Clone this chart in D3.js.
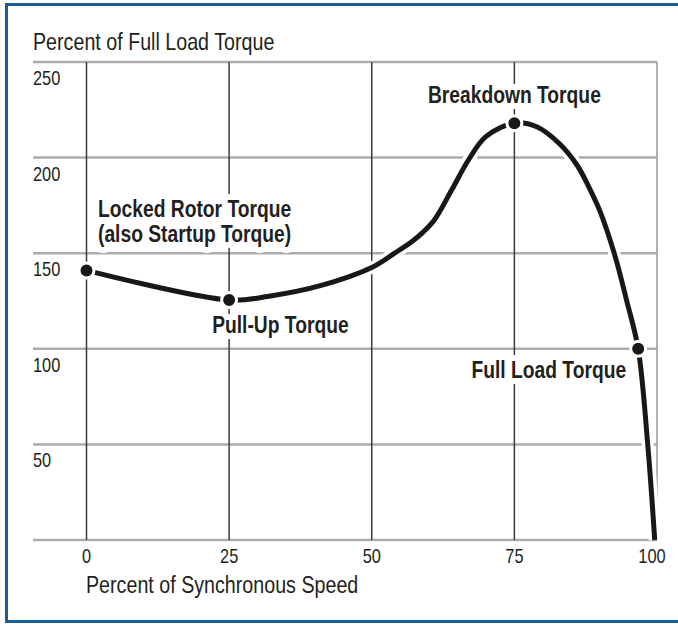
<!DOCTYPE html>
<html>
<head>
<meta charset="utf-8">
<script src="https://cdn.jsdelivr.net/npm/d3@7"></script>
<style>
  body { margin: 0; background: #fff; }
  svg text { font-family: "Liberation Sans", Arial, sans-serif; fill: #231f20; }
</style>
</head>
<body>
<div id="chart"></div>
<script>
// torque-speed curve
const speed  = [0, 25, 32, 41, 50, 54, 57, 59, 61, 64, 67, 70, 75, 79, 83, 86, 88, 90, 92.6, 94.7, 96.7, 98.4, 99.6];
const torque = [141, 125.5, 127.5, 133, 142.5, 150, 156, 161, 167.5, 183, 199, 211, 218, 216, 207, 196, 185, 172, 149, 125, 100, 49, 0];

const markSpeed  = [0, 25, 75, 96.7];
const markTorque = [141, 125.5, 218, 100];
const markLabels = [["Locked Rotor Torque", "(also Startup Torque)"], ["Pull-Up Torque"], ["Breakdown Torque"], ["Full Load Torque"]];

const xTicks = [0, 25, 50, 75, 100];
const yTicks = [50, 100, 150, 200, 250];

const width = 678, height = 624;
const narrow = 0.82;   // horizontal squeeze to mimic a condensed face

let svg = d3.select("#chart")
  .append("svg")
    .attr("width", width)
    .attr("height", height);

// blue frame (right edge is cropped in the original)
svg.append("path")
  .attr("d", "M" + (width + 5) + ",4.5 H6.5 V621.5 H" + (width + 5))
  .attr("fill", "none")
  .attr("stroke", "#1b5c97")
  .attr("stroke-width", 3);

let x = d3.scaleLinear().domain([0, 100]).range([86.5, 657]);
let y = d3.scaleLinear().domain([0, 250]).range([540, 62]);
const gridLeft = 33;

function place(px, py) {
  return "translate(" + px + "," + py + ") scale(" + narrow + ",1)";
}

// horizontal grid
svg.append("g")
  .selectAll("line")
  .data([0].concat(yTicks))
  .enter()
  .append("line")
    .attr("x1", gridLeft)
    .attr("x2", x(100))
    .attr("y1", d => y(d))
    .attr("y2", d => y(d))
    .attr("stroke", "#ababab")
    .attr("stroke-width", 2.5);

// vertical grid
svg.append("g")
  .selectAll("line")
  .data(xTicks)
  .enter()
  .append("line")
    .attr("x1", d => x(d))
    .attr("x2", d => x(d))
    .attr("y1", y(250))
    .attr("y2", y(0))
    .attr("stroke", d => d == 100 ? "#9a9a9a" : "#3a3a3a")
    .attr("stroke-width", 1.5);

// tick labels
svg.append("g")
  .selectAll("text")
  .data(yTicks)
  .enter()
  .append("text")
    .attr("transform", d => place(gridLeft, y(d) + 23))
    .style("font-size", "20px")
    .text(d => d);

svg.append("g")
  .selectAll("text")
  .data(xTicks)
  .enter()
  .append("text")
    .attr("transform", d => place(x(d) + (d == 100 ? -5 : 0), y(0) + 23))
    .attr("text-anchor", "middle")
    .style("font-size", "20px")
    .text(d => d);

// axis titles
svg.append("text")
  .attr("transform", place(33, 50))
  .style("font-size", "24px")
  .text("Percent of Full Load Torque");

svg.append("text")
  .attr("transform", place(86, 593))
  .style("font-size", "24px")
  .text("Percent of Synchronous Speed");

// curve
let line = d3.line()
  .x(d => x(d[0]))
  .y(d => y(d[1]))
  .curve(d3.curveCatmullRom.alpha(0.5));

let pts = speed.map((s, i) => [s, torque[i]]);

svg.append("path")
  .datum(pts)
  .attr("d", line)
  .attr("fill", "none")
  .attr("stroke", "#fff")
  .attr("stroke-width", 12);

svg.append("path")
  .datum(pts)
  .attr("d", line)
  .attr("fill", "none")
  .attr("stroke", "#1a1718")
  .attr("stroke-width", 5);

// marked points
svg.append("g")
  .selectAll("circle")
  .data(markSpeed)
  .enter()
  .append("circle")
    .attr("cx", d => x(d))
    .attr("cy", (d, i) => y(markTorque[i]))
    .attr("r", 7.5)
    .attr("fill", "#1a1718")
    .attr("stroke", "#fff")
    .attr("stroke-width", 3);

// label placement relative to each point
const labelDx = [11.5, -17, 0, -12];
const labelDy = [-53, 33, -20, 29];
const labelAnchor = ["start", "start", "middle", "end"];

markLabels.forEach(function(lines, i) {
  lines.forEach(function(l, j) {
    svg.append("text")
      .attr("transform", place(x(markSpeed[i]) + labelDx[i], y(markTorque[i]) + labelDy[i] + j * 25))
      .attr("text-anchor", labelAnchor[i])
      .style("font-size", "23.5px")
      .style("font-weight", "bold")
      .style("stroke", "#fff")
      .style("stroke-width", 12)
      .style("stroke-linejoin", "round")
      .style("paint-order", "stroke")
      .text(l);
  });
});
</script>
</body>
</html>
